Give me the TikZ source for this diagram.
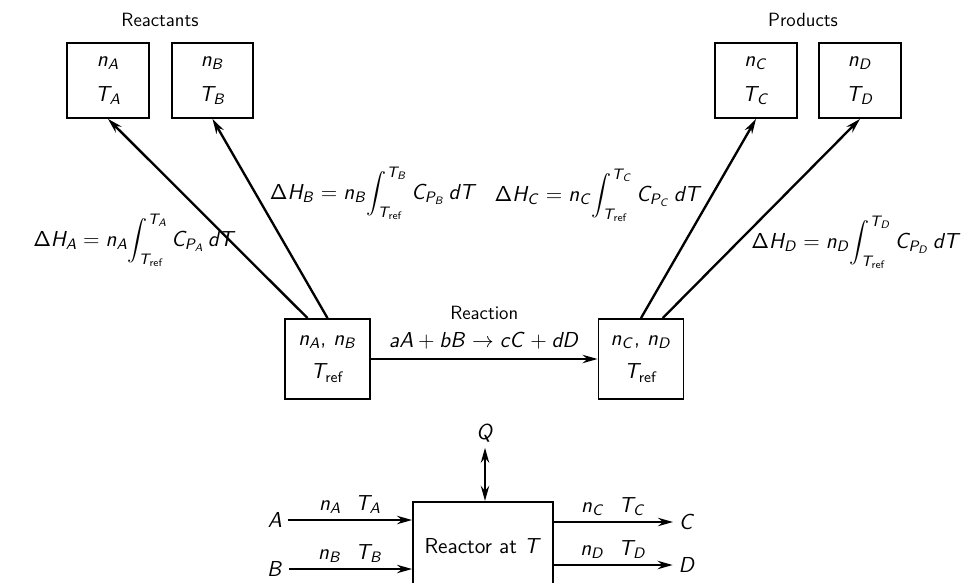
\RequirePackage{fix-cm}
\documentclass[tikz,border=0pt]{standalone}
\usepackage{amsmath}
\usetikzlibrary{arrows.meta,positioning}
% sans serif, slanted math letters
\DeclareSymbolFont{operators}{OT1}{cmss}{m}{n}
\DeclareSymbolFont{letters}{OT1}{cmss}{m}{sl}
\tikzstyle{state-box} = [draw, line width=1.1pt, rectangle,
    minimum width=49pt, minimum height=45pt, inner sep=2pt, align=center]
\tikzstyle{reactor-box} = [draw, line width=1.1pt, rectangle,
    minimum width=84pt, minimum height=53pt]
\tikzstyle{flow-arrow} = [line width=1.4pt, -{Stealth[length=9pt,width=5pt]}]
\tikzstyle{group-title} = [font=\fontsize{11.5}{13}\selectfont]
\newcommand{\Tref}{T_{\mathrm{ref}}}

\begin{document}
\sffamily
\begin{tikzpicture}[x=0.6pt,y=-0.6pt,font=\fontsize{13}{15}\selectfont]
\useasboundingbox (0,0) rectangle (969,582);
% states at the top
\node[group-title] (reactants) at (160,20) {Reactants};
\node[group-title] (products) at (803,20) {Products};
\node[state-box] (boxA) at (108,80.5) {$n_A$\\[6pt]$T_A$};
\node[state-box] (boxB) at (212.5,80.5) {$n_B$\\[6pt]$T_B$};
\node[state-box] (boxC) at (756,80.5) {$n_C$\\[6pt]$T_C$};
\node[state-box] (boxD) at (860,80.5) {$n_D$\\[6pt]$T_D$};
% reference states
\node[state-box, minimum width=51pt, minimum height=48pt] (refL) at (327.5,359) {$n_A$, $n_B$\\[5pt]$\Tref$};
\node[state-box, minimum width=51pt, minimum height=48pt] (refR) at (641,359) {$n_C$, $n_D$\\[5pt]$\Tref$};

\draw[flow-arrow] ([xshift=-12pt]refL.north) -- (boxA.south);
\draw[flow-arrow] (refL.north) -- (boxB.south);
\draw[flow-arrow] (refR.north) -- (boxC.south);
\draw[flow-arrow] ([xshift=13pt]refR.north) -- (boxD.south);
\draw[flow-arrow] (refL.east) -- (refR.west)
    node[midway, above=2pt] (rxn) {$aA + bB \to cC + dD$};
\node[group-title, above=0pt of rxn] (rxntitle) {Reaction};

\node[anchor=east] (dHA) at (242,240) {$\displaystyle \Delta H_A = n_A\!\int_{\Tref}^{T_A} C_{P_A}\,dT$};
\node[anchor=west] (dHB) at (264,193) {$\displaystyle \Delta H_B = n_B\!\int_{\Tref}^{T_B} C_{P_B}\,dT$};
\node[anchor=east] (dHC) at (708,195) {$\displaystyle \Delta H_C = n_C\!\int_{\Tref}^{T_C} C_{P_C}\,dT$};
\node[anchor=east] (dHD) at (967,242) {$\displaystyle \Delta H_D = n_D\!\int_{\Tref}^{T_D} C_{P_D}\,dT$};

% reactor
\node[reactor-box] (reactor) at (483,546) {Reactor at $T$};
\node (Q) at (485,433) {$Q$};
\draw[line width=1.4pt, {Stealth[length=9pt,width=5pt]}-{Stealth[length=9pt,width=5pt]}]
    (Q.south) -- (Q.south |- reactor.north);
\node (inA) at (275,520) {$A$};
\node (inB) at (275,569) {$B$};
\node (outC) at (687,522) {$C$};
\node (outD) at (687,565) {$D$};
\draw[flow-arrow] (inA.east) -- (inA -| reactor.west) node[midway, above] {$n_A\ \ T_A$};
\draw[flow-arrow] (inB.east) -- (inB -| reactor.west) node[midway, above] {$n_B\ \ T_B$};
\draw[flow-arrow] (outC -| reactor.east) -- (outC.west) node[midway, above] {$n_C\ \ T_C$};
\draw[flow-arrow] (outD -| reactor.east) -- (outD.west) node[midway, above] {$n_D\ \ T_D$};
\end{tikzpicture}
\end{document}
